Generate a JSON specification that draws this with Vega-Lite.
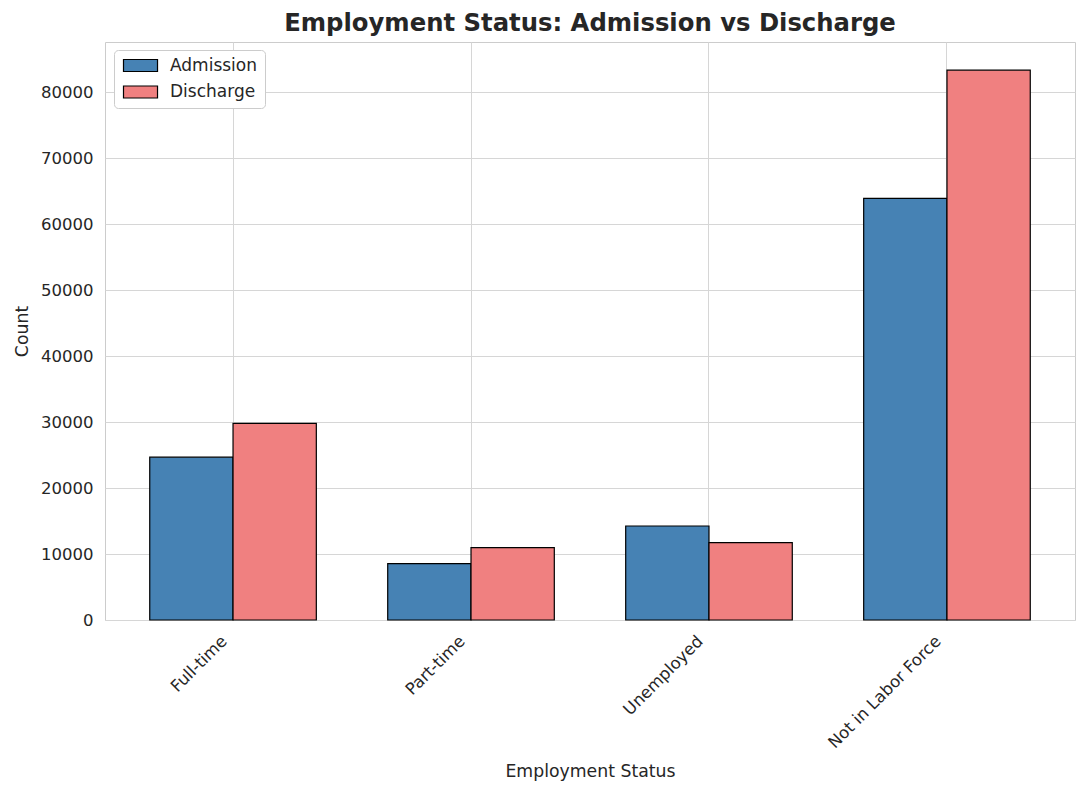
{
  "$schema": "https://vega.github.io/schema/vega-lite/v6.json",
  "width": 970,
  "height": 578,
  "autosize": {"type": "none"},
  "padding": {"left": 105, "top": 42, "right": 12, "bottom": 172},
  "background": "white",
  "title": {
    "text": "Employment Status: Admission vs Discharge",
    "font": "DejaVu Sans",
    "fontSize": 24.3,
    "fontWeight": "bold",
    "color": "#262626",
    "anchor": "middle",
    "offset": 6
  },
  "data": {
    "values": [
      {"status": "Full-time", "type": "Admission", "count": 24680},
      {"status": "Full-time", "type": "Discharge", "count": 29790},
      {"status": "Part-time", "type": "Admission", "count": 8540},
      {"status": "Part-time", "type": "Discharge", "count": 10970},
      {"status": "Unemployed", "type": "Admission", "count": 14250},
      {"status": "Unemployed", "type": "Discharge", "count": 11730},
      {"status": "Not in Labor Force", "type": "Admission", "count": 63890},
      {"status": "Not in Labor Force", "type": "Discharge", "count": 83330}
    ]
  },
  "mark": {"type": "bar", "stroke": "black", "strokeWidth": 1.2},
  "encoding": {
    "x": {
      "field": "status",
      "type": "nominal",
      "sort": ["Full-time", "Part-time", "Unemployed", "Not in Labor Force"],
      "scale": {"paddingInner": 0.3, "paddingOuter": 0.188},
      "axis": {
        "title": "Employment Status",
        "titleY": 156,
        "titleBaseline": "alphabetic",
        "labelAngle": -45,
        "labelAlign": "right",
        "labelBaseline": "bottom",
        "labelPadding": 24,
        "labelOffset": -3,
        "ticks": false,
        "domain": false,
        "grid": true,
        "bandPosition": 0.5
      }
    },
    "xOffset": {
      "field": "type",
      "type": "nominal",
      "scale": {"paddingInner": 0, "paddingOuter": 0}
    },
    "y": {
      "field": "count",
      "type": "quantitative",
      "scale": {"domain": [0, 87600], "nice": false},
      "axis": {
        "title": "Count",
        "values": [0, 10000, 20000, 30000, 40000, 50000, 60000, 70000, 80000],
        "format": "d",
        "ticks": false,
        "domain": false,
        "labelPadding": 12,
        "titleX": -78,
        "titleBaseline": "alphabetic"
      }
    },
    "color": {
      "field": "type",
      "type": "nominal",
      "scale": {"domain": ["Admission", "Discharge"], "range": ["#4682b4", "#f08080"]},
      "legend": {
        "title": null,
        "orient": "none",
        "legendX": 9,
        "legendY": 8,
        "symbolType": "M-1,-1L4.67,-1L4.67,1L-1,1Z",
        "symbolSize": 144,
        "symbolStrokeColor": "black",
        "symbolStrokeWidth": 1.2,
        "symbolOpacity": 1,
        "labelOffset": 32,
        "rowPadding": 8.5,
        "padding": 7,
        "fillColor": "white",
        "strokeColor": "#cccccc",
        "cornerRadius": 4,
        "labelFontSize": 17,
        "labelFont": "DejaVu Sans",
        "labelColor": "#262626"
      }
    }
  },
  "config": {
    "font": "DejaVu Sans",
    "view": {"stroke": "#cccccc", "strokeWidth": 1},
    "axis": {
      "labelFont": "DejaVu Sans",
      "labelFontSize": 16.5,
      "labelColor": "#262626",
      "titleFont": "DejaVu Sans",
      "titleFontSize": 17.3,
      "titleFontWeight": "normal",
      "titleColor": "#262626",
      "gridColor": "#d6d6d6",
      "gridWidth": 1,
      "gridOpacity": 1
    }
  }
}
